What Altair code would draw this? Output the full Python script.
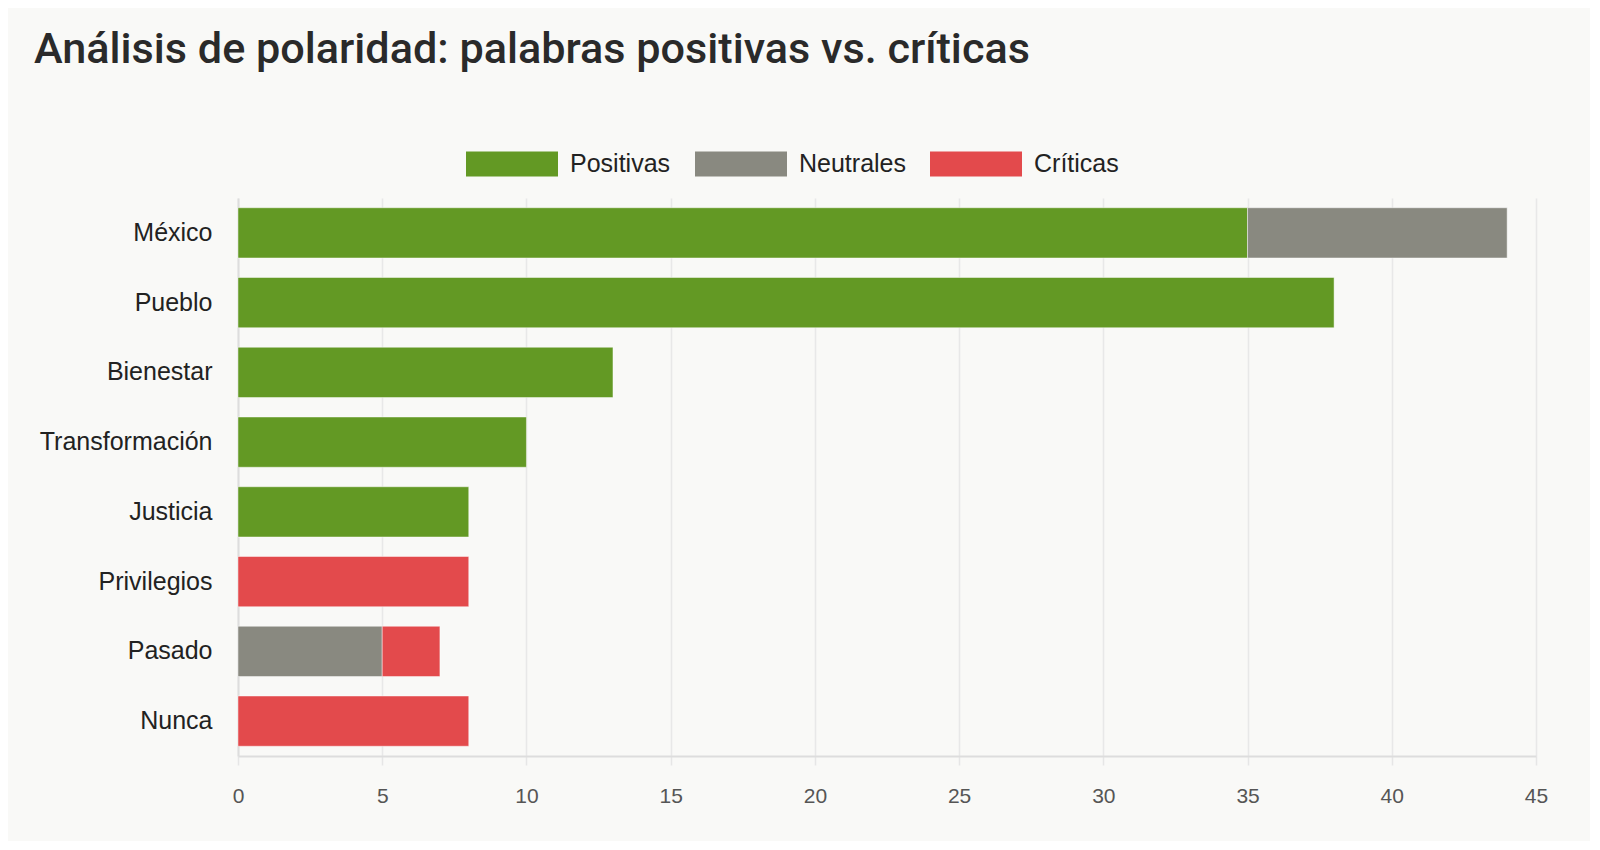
import altair as alt
import pandas as pd

words = ["México", "Pueblo", "Bienestar", "Transformación", "Justicia", "Privilegios", "Pasado", "Nunca"]
positivas = [35, 38, 13, 10, 8, 0, 0, 0]
neutrales = [9, 0, 0, 0, 0, 0, 5, 0]
criticas = [0, 0, 0, 0, 0, 8, 2, 8]

categories = ["Positivas", "Neutrales", "Críticas"]
colors = ["#639924", "#898980", "#e34a4c"]
x_ticks = [0, 5, 10, 15, 20, 25, 30, 35, 40, 45]

rows = []
for i, w in enumerate(words):
    for k, (cat, vals) in enumerate(zip(categories, [positivas, neutrales, criticas])):
        if vals[i] > 0:
            rows.append({"palabra": w, "tipo": cat, "valor": vals[i], "orden": k})
df = pd.DataFrame(rows)

bars = alt.Chart(df).mark_bar(
    stroke="#ffffff", strokeWidth=1, strokeOpacity=0.45
).encode(
    y=alt.Y("palabra:N", sort=words, title=None,
            scale=alt.Scale(paddingInner=0.28, paddingOuter=0.14),
            axis=alt.Axis(labelFont="Liberation Sans", labelFontSize=25, labelColor="#222222",
                          labelPadding=26, ticks=False, domain=True, domainColor="#dddddd",
                          domainWidth=2, grid=False)),
    x=alt.X("valor:Q", stack="zero", title=None,
            scale=alt.Scale(domain=[0, 45], nice=False),
            axis=alt.Axis(values=x_ticks, labelFont="Liberation Sans", labelFontSize=21,
                          labelColor="#555555", labelPadding=20, labelFlush=False,
                          tickSize=9, tickColor="#e6e6e6",
                          tickWidth=1.5, domainColor="#dddddd", domainWidth=2,
                          grid=True, gridColor="#e8e8e8", gridWidth=1.5)),
    color=alt.Color("tipo:N", scale=alt.Scale(domain=categories, range=colors),
                    legend=alt.Legend(title=None, orient="none", direction="horizontal",
                                      legendX=228, legendY=-80,
                                      symbolType="M-1,-0.27H1V0.27H-1Z", symbolSize=8464,
                                      symbolStrokeWidth=0, symbolOpacity=1,
                                      labelFont="Liberation Sans", labelFontSize=25,
                                      labelColor="#222222", labelOffset=12,
                                      columnPadding=24, padding=0)),
    order=alt.Order("orden:Q"),
)

chart = bars.properties(
    width=1298,
    height=558,
    autosize=alt.AutoSizeParams(type="none"),
    padding={"left": 230, "top": 190, "right": 54, "bottom": 85},
    background="#f9f9f7",
    title=alt.TitleParams(
        "Análisis de polaridad: palabras positivas vs. críticas",
        anchor="start", frame="group", font="Roboto", fontWeight=500, fontSize=43.2,
        color="#2a2a2a", dx=-204, offset=46,
    ),
).configure_view(stroke=None)

chart.save("out.html", embed_options={"renderer": "svg", "actions": False})
